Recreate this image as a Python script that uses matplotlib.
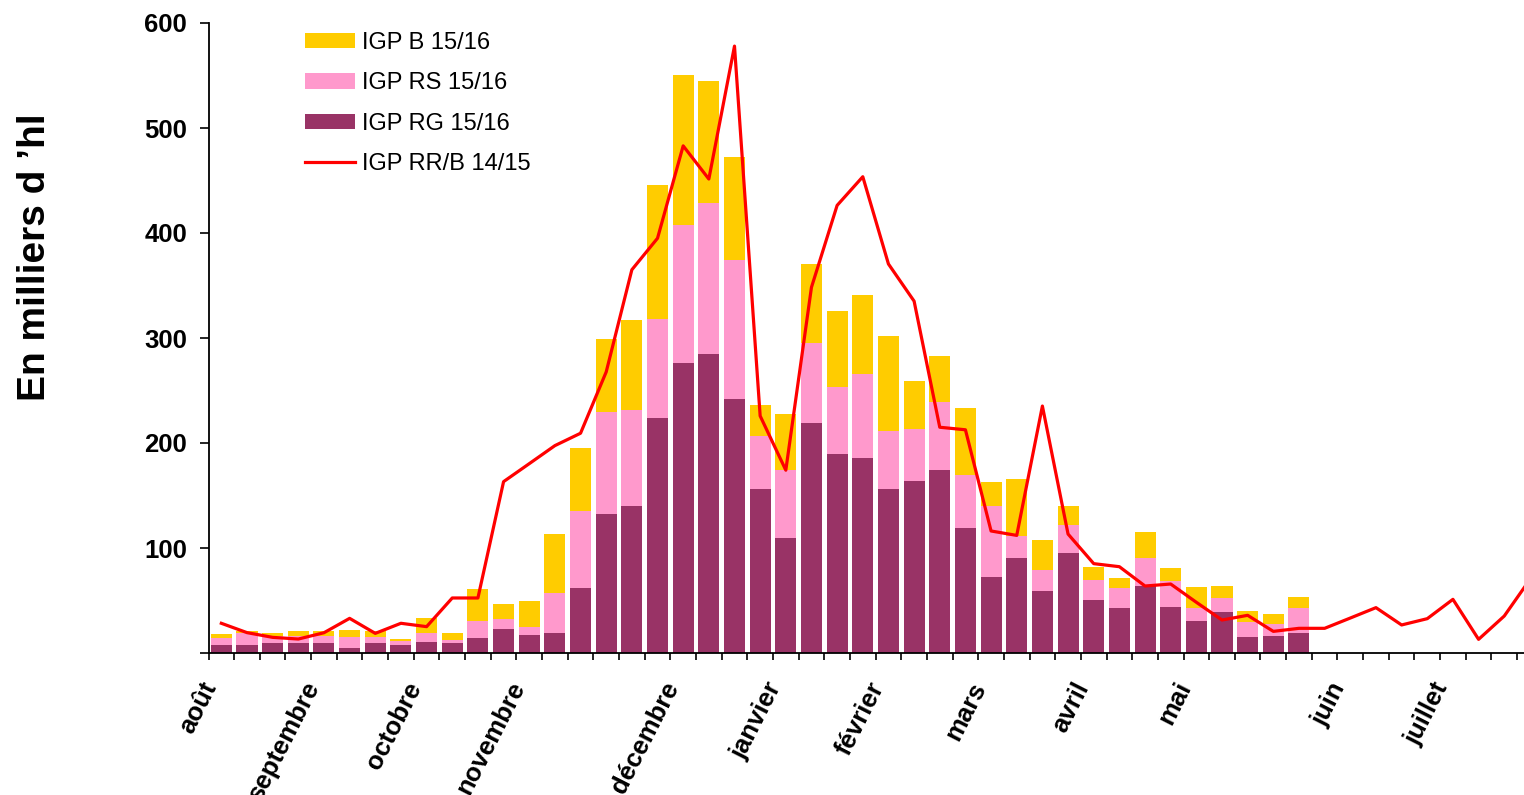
"""Sorties hebdomadaires IGP 15/16 (barres empilées) vs IGP RR/B 14/15 (ligne)."""

import matplotlib

matplotlib.use("Agg")
import matplotlib.pyplot as plt  # noqa: E402
import numpy as np  # noqa: E402
from matplotlib.lines import Line2D  # noqa: E402

# month labels and the week (category index) they sit on
MONTHS = ["août", "septembre", "octobre", "novembre", "décembre", "janvier",
          "février", "mars", "avril", "mai", "juin", "juillet"]
MONTH_WEEKS = [0, 4, 8, 12, 18, 22, 26, 30, 34, 38, 44, 48]

# weekly volumes, milliers d'hl (campagne 15/16, bars stop end of May)
IGP_RG = [7.6, 7.6, 9.5, 9.5, 9.5, 4.8, 9.5, 7.6, 10.5, 9.5, 14.3, 22.9, 17.1, 19.0,
          61.9, 132.6, 139.8, 223.6, 276.0, 284.9, 242.2, 156.2, 109.9, 218.9, 189.4,
          185.7, 156.2, 163.9, 174.5, 119.2, 72.4, 90.5, 59.0, 95.2, 50.5, 42.9, 63.8,
          43.8, 30.5, 39.0, 15.2, 16.2, 19.0]
IGP_RS = [6.7, 11.1, 7.0, 6.5, 6.7, 10.1, 5.5, 3.8, 8.5, 2.9, 16.2, 9.5, 7.7, 38.1,
          72.9, 97.2, 91.5, 94.4, 131.7, 143.2, 132.0, 50.3, 64.6, 76.5, 63.7, 79.8,
          55.4, 49.9, 64.8, 50.1, 67.9, 21.2, 20.4, 26.4, 19.3, 19.3, 26.7, 24.5, 12.4,
          13.4, 14.3, 11.4, 23.9]
IGP_B = [3.8, 2.3, 2.5, 5.0, 4.8, 7.0, 6.0, 1.9, 14.3, 6.6, 30.5, 14.3, 24.7, 56.2,
         60.8, 69.2, 86.0, 127.6, 142.8, 116.6, 98.4, 29.5, 53.1, 75.1, 72.6, 75.5,
         90.4, 45.2, 43.4, 64.1, 22.6, 54.0, 28.2, 18.4, 12.1, 9.2, 24.7, 12.7, 20.0,
         11.4, 10.5, 9.5, 10.4]
# previous campaign, full year (52 weeks)
IGP_RRB_1415 = [28.3, 19.4, 14.9, 13.3, 19.3, 33.0, 18.7, 28.3, 25.1, 52.4, 52.4,
                163.2, 180.3, 197.5, 209.3, 267.7, 365.0, 395.0, 483.0, 451.4, 578.0,
                225.8, 174.1, 348.3, 426.3, 453.6, 370.5, 335.1, 215.0, 212.6, 116.2,
                112.0, 235.2, 113.3, 85.1, 82.2, 63.8, 65.7, 48.3, 31.4, 35.9, 20.6,
                23.5, 23.5, 33.3, 43.2, 26.7, 32.7, 51.1, 13.0, 35.2, 70.0]

RG_C = "#993366"
RS_C = "#FF99CC"
B_C = "#FFCC00"
LINE_C = "#FF0000"
FONT = "Liberation Sans"


def main() -> int:
    plt.rcParams["font.family"] = [FONT, "DejaVu Sans"]
    fig = plt.figure(figsize=(15.24, 7.95), dpi=100)
    ax = fig.add_axes([208.5 / 1524, 142 / 795, 1315.5 / 1524, 630 / 795])

    rg = np.array(IGP_RG)
    rs = np.array(IGP_RS)
    b = np.array(IGP_B)
    xb = np.arange(len(rg))
    w = 0.82
    h_rg = ax.bar(xb, rg, w, color=RG_C, zorder=2)
    h_rs = ax.bar(xb, rs, w, bottom=rg, color=RS_C, zorder=2)
    h_b = ax.bar(xb, b, w, bottom=rg + rs, color=B_C, zorder=2)
    ax.plot(np.arange(len(IGP_RRB_1415)), IGP_RRB_1415, color=LINE_C, lw=2.3, zorder=3)

    ax.set_xlim(-0.5, 50.77)
    ax.set_ylim(0, 600)
    for s in ("top", "right"):
        ax.spines[s].set_visible(False)
    for s in ("left", "bottom"):
        ax.spines[s].set_linewidth(1.3)
        ax.spines[s].set_clip_on(False)

    # y axis
    yt = np.arange(0, 601, 100)
    ax.set_yticks(yt, [""] + [str(v) for v in yt[1:]])
    ax.tick_params(axis="y", direction="out", length=6.5, width=1.2, pad=9,
                   labelsize=18.5)
    for t in ax.get_yticklabels():
        t.set_fontweight("bold")

    # x axis: ticks between weeks, month names on their week
    ax.set_xticks(np.arange(-0.5, 51, 1.0), [])
    ax.tick_params(axis="x", which="major", direction="out", length=5, width=1.2)
    ax.set_xticks(MONTH_WEEKS, MONTHS, minor=True)
    ax.tick_params(axis="x", which="minor", length=0, pad=18, labelsize=18.5)
    for t in ax.get_xticklabels(minor=True):
        t.set_rotation(63)
        t.set_ha("right")
        t.set_va("top")
        t.set_fontweight("bold")

    ax.set_ylabel("En milliers d \u2019hl", fontsize=28, fontweight="bold")
    ax.yaxis.set_label_coords(-0.118, 0.629)

    line_h = Line2D([], [], color=LINE_C, lw=2.3)
    ax.legend([h_b, h_rs, h_rg, line_h],
              ["IGP B 15/16", "IGP RS 15/16", "IGP RG 15/16", "IGP RR/B 14/15"],
              loc="upper left", bbox_to_anchor=(305 / 1524, 1 - 32 / 795),
              bbox_transform=fig.transFigure, frameon=False, fontsize=17,
              handlelength=2.1, handleheight=0.63, handletextpad=0.3,
              labelspacing=0.78, borderpad=0, borderaxespad=0)

    fig.savefig("out.png", dpi=100)
    return 0


if __name__ == "__main__":
    raise SystemExit(main())
